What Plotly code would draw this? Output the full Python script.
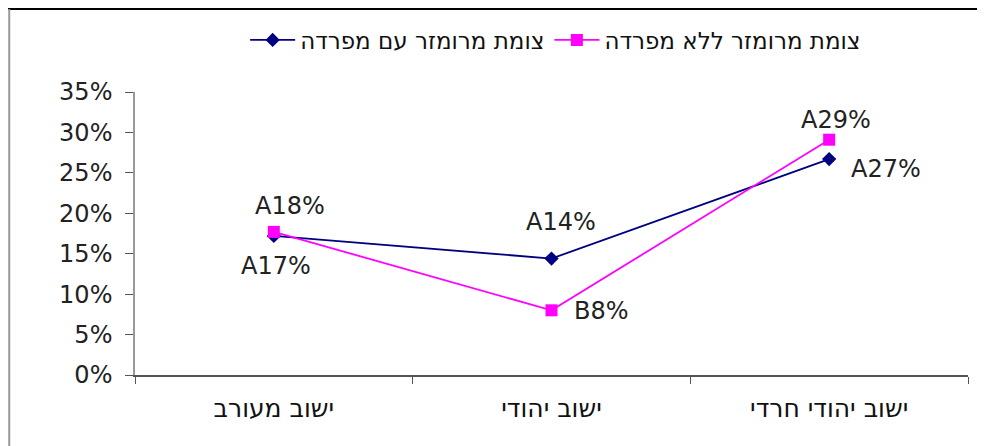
"""Signalised junction share by settlement type, with / without median."""

import plotly.graph_objects as go

CATEGORIES = ["ישוב מעורב", "ישוב יהודי", "ישוב יהודי חרדי"]

WITH_MEDIAN_NAME = "צומת מרומזר עם מפרדה"
WITH_MEDIAN = [0.172, 0.144, 0.267]
WITH_MEDIAN_LABELS = ["A17%", "A14%", "A27%"]

NO_MEDIAN_NAME = "צומת מרומזר ללא מפרדה"
NO_MEDIAN = [0.177, 0.080, 0.291]
NO_MEDIAN_LABELS = ["A18%", "B8%", "A29%"]

Y_TICKS = [0, 0.05, 0.10, 0.15, 0.20, 0.25, 0.30, 0.35]

FONT = "DejaVu Sans, Arial, sans-serif"

# pixel offsets of each value label from its marker (style only)
WITH_SHIFTS = [(2, -30), (9, 37), (57, -10)]
NO_SHIFTS = [(16, 26), (50, -1), (7, 20)]

fig = go.Figure()
fig.add_trace(
    go.Scatter(
        x=CATEGORIES,
        y=WITH_MEDIAN,
        name=WITH_MEDIAN_NAME,
        mode="lines+markers",
        line=dict(color="#000080", width=1.8),
        marker=dict(symbol="diamond", size=11, color="#000080"),
    )
)
fig.add_trace(
    go.Scatter(
        x=CATEGORIES,
        y=NO_MEDIAN,
        name=NO_MEDIAN_NAME,
        mode="lines+markers",
        line=dict(color="#FF00FF", width=1.8),
        marker=dict(symbol="square", size=12, color="#FF00FF"),
    )
)

for values, labels, shifts in (
    (WITH_MEDIAN, WITH_MEDIAN_LABELS, WITH_SHIFTS),
    (NO_MEDIAN, NO_MEDIAN_LABELS, NO_SHIFTS),
):
    for cat, val, lab, (dx, dy) in zip(CATEGORIES, values, labels, shifts):
        fig.add_annotation(
            x=cat, y=val, text=lab, showarrow=False,
            xanchor="center", yanchor="middle", xshift=dx, yshift=dy,
            font=dict(size=24, color="#222222", family=FONT),
        )

# page has an 8px body margin, so the figure sits 8px right/down
fig.update_layout(
    width=985,
    height=446,
    margin=dict(l=127, r=25, t=84, b=79, autoexpand=False),
    paper_bgcolor="white",
    plot_bgcolor="white",
    font=dict(family=FONT, size=16, color="#222222"),
    legend=dict(
        orientation="h",
        x=0.505,
        xanchor="center",
        y=1.184,
        yanchor="middle",
        font=dict(size=23, color="#111111", family=FONT),
        bgcolor="rgba(0,0,0,0)",
        traceorder="normal",
        itemwidth=45,
    ),
    shapes=[
        dict(type="line", xref="paper", yref="paper", x0=-0.16, x1=1.04,
             y0=1.293, y1=1.293, line=dict(color="black", width=2)),
        dict(type="line", xref="paper", yref="paper", x0=-0.151, x1=-0.151,
             y0=1.293, y1=-0.3, line=dict(color="#999999", width=2)),
    ],
)
fig.update_xaxes(
    type="category",
    range=[-0.5, 2.5],
    showline=True,
    linecolor="#555555",
    linewidth=1.5,
    ticks="outside",
    tickson="boundaries",
    ticklen=7,
    tickcolor="#555555",
    showgrid=False,
    tickfont=dict(size=25, color="#111111", family=FONT),
    ticklabelstandoff=10,
    automargin=False,
)
fig.update_yaxes(
    range=[0, 0.35],
    tickvals=Y_TICKS,
    tickformat=".0%",
    showline=True,
    linecolor="#999999",
    linewidth=1.5,
    ticks="outside",
    ticklen=8,
    tickcolor="#555555",
    showgrid=False,
    zeroline=False,
    tickfont=dict(size=24, color="#222222", family=FONT),
    ticklabelstandoff=8,
    automargin=False,
)

fig.write_html("out.html")
